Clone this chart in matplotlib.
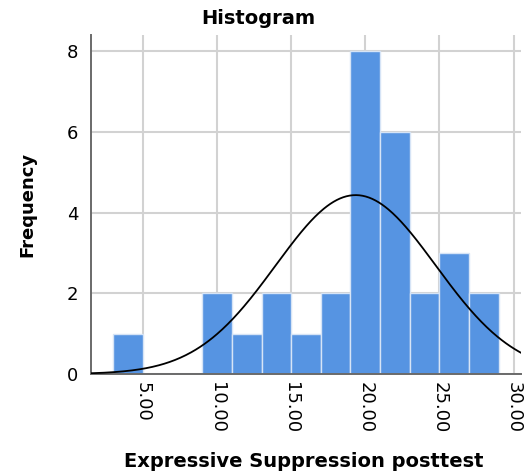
import numpy as np
import matplotlib.pyplot as plt

# Binned scores (bin width 2) and their frequencies
bin_left = [3, 5, 7, 9, 11, 13, 15, 17, 19, 21, 23, 25, 27]
counts = [1, 0, 0, 2, 1, 2, 1, 2, 8, 6, 2, 3, 2]
bin_width = 2

# Normal curve parameters for the overlay
mean_score = 19.35
sd_score = 5.4

x_ticks = [5, 10, 15, 20, 25, 30]
x_tick_labels = ['5.00', '10.00', '15.00', '20.00', '25.00', '30.00']
y_ticks = [0, 2, 4, 6, 8]

fig = plt.figure(figsize=(5.27, 4.76), dpi=100)
ax = fig.add_axes([0.1727, 0.2143, 0.8159, 0.7122])

ax.bar(bin_left, counts, width=bin_width, align='edge',
       color='#5694e2', edgecolor='#d6e4f6', linewidth=1.0, zorder=2)

# overlay the normal density scaled to frequency
n_total = sum(counts)
xs = np.linspace(1.5, 30.5, 400)
ys = n_total * bin_width / (sd_score * np.sqrt(2 * np.pi)) * \
    np.exp(-0.5 * ((xs - mean_score) / sd_score) ** 2)
ax.plot(xs, ys, color='black', linewidth=1.3, zorder=3)

ax.set_xlim(1.5, 30.5)
ax.set_ylim(0, 8.4)
ax.set_xticks(x_ticks)
ax.set_xticklabels(x_tick_labels, rotation=-90, fontsize=13)
ax.set_yticks(y_ticks)
ax.tick_params(axis='y', labelsize=13, length=0, pad=9)
ax.tick_params(axis='x', length=0, pad=6)
for lbl in ax.get_xticklabels():
    lbl.set_verticalalignment('top')

ax.grid(True, color='#d2d2d2', linewidth=1.5)
ax.set_axisbelow(True)
for side in ['top', 'right']:
    ax.spines[side].set_visible(False)
for side in ['left', 'bottom']:
    ax.spines[side].set_color('#6a6a6a')
    ax.spines[side].set_linewidth(1.4)

ax.set_ylabel('Frequency', fontsize=13, fontweight='bold', labelpad=22)
fig.text(0.576, 0.030, 'Expressive Suppression posttest', ha='center',
         va='center', fontsize=14, fontweight='bold')
fig.text(0.49, 0.962, 'Histogram', ha='center', va='center',
         fontsize=14, fontweight='bold')

fig.savefig('out.png', dpi=100)
